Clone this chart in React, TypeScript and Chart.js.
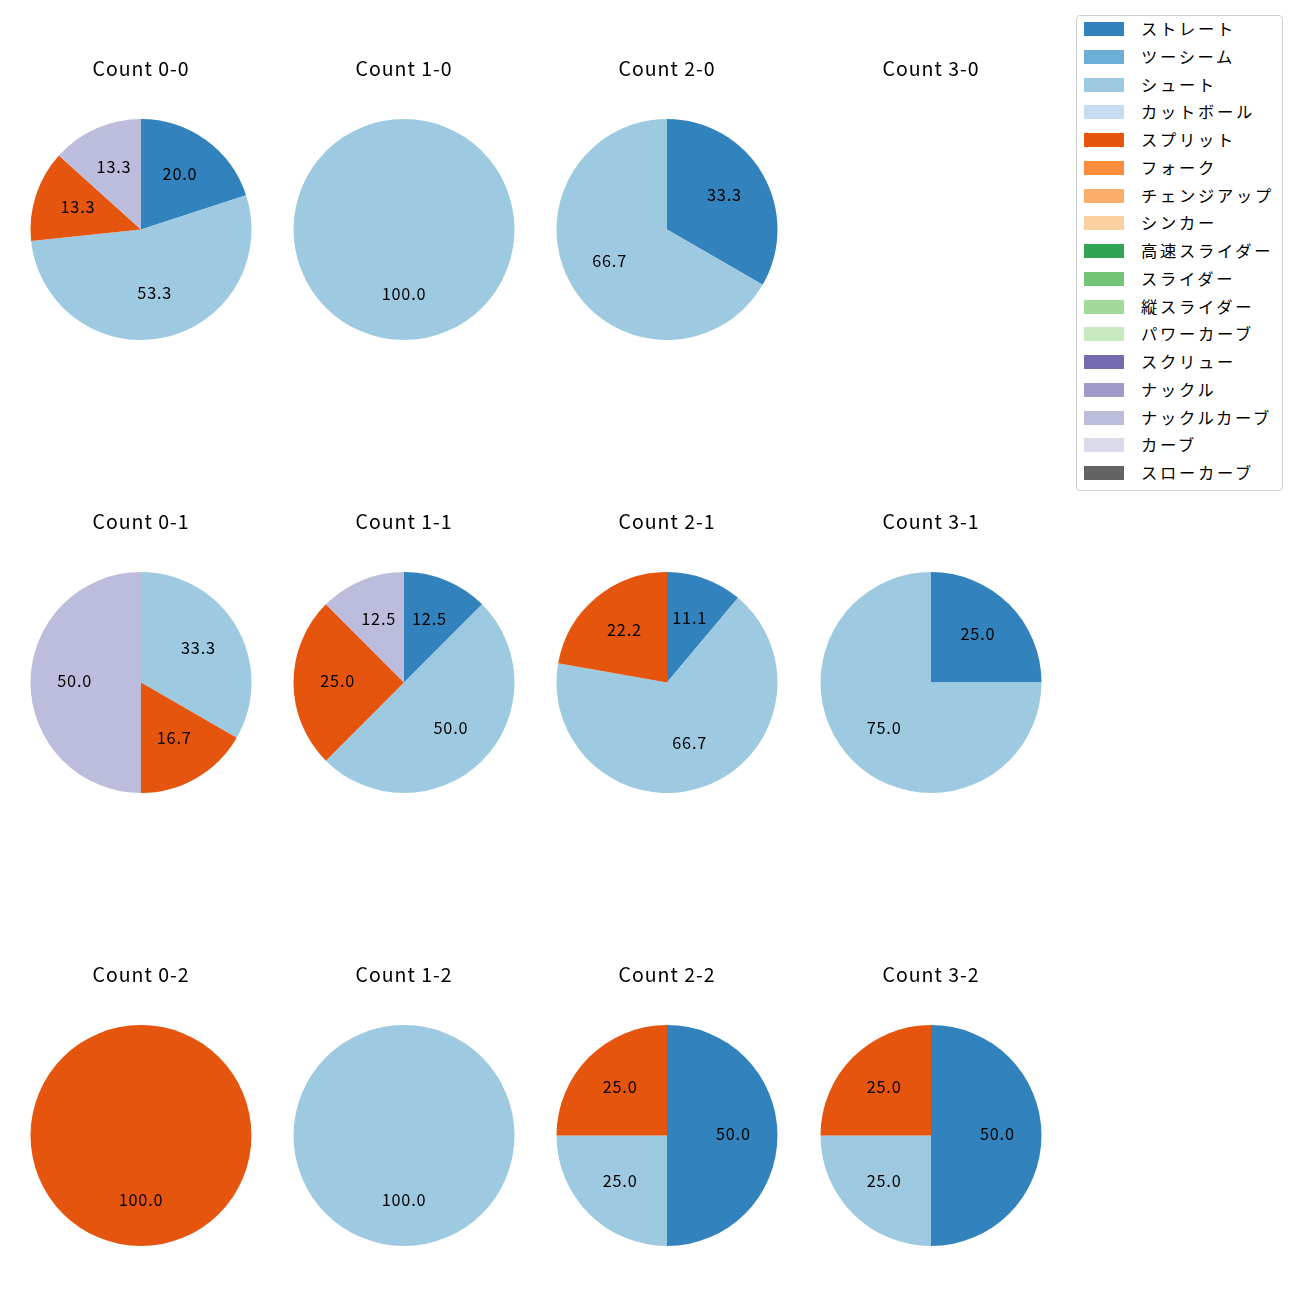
import React, { useEffect, useRef } from "react";
import { Chart, registerables } from "chart.js";

Chart.register(...registerables);

const pitchTypes = [
  "ストレート", "ツーシーム", "シュート", "カットボール", "スプリット", "フォーク",
  "チェンジアップ", "シンカー", "高速スライダー", "スライダー", "縦スライダー",
  "パワーカーブ", "スクリュー", "ナックル", "ナックルカーブ", "カーブ", "スローカーブ",
];
const pitchColors = [
  "#3182bd", "#6baed6", "#9ecae1", "#c6dbef", "#e6550d", "#fd8d3c",
  "#fdae6b", "#fdd0a2", "#31a354", "#74c476", "#a1d99b",
  "#c7e9c0", "#756bb1", "#9e9ac8", "#bcbddc", "#dadaeb", "#636363",
];

//                 St Tw Sh Ct Sp Fk Ch Sk HS Sl VS PC Sc Kn KC Cv SC
const count00 = [3, 0, 8, 0, 2, 0, 0, 0, 0, 0, 0, 0, 0, 0, 2, 0, 0];
const count10 = [0, 0, 1, 0, 0, 0, 0, 0, 0, 0, 0, 0, 0, 0, 0, 0, 0];
const count20 = [1, 0, 2, 0, 0, 0, 0, 0, 0, 0, 0, 0, 0, 0, 0, 0, 0];
const count30: number[] = [];
const count01 = [0, 0, 2, 0, 1, 0, 0, 0, 0, 0, 0, 0, 0, 0, 3, 0, 0];
const count11 = [1, 0, 4, 0, 2, 0, 0, 0, 0, 0, 0, 0, 0, 0, 1, 0, 0];
const count21 = [1, 0, 6, 0, 2, 0, 0, 0, 0, 0, 0, 0, 0, 0, 0, 0, 0];
const count31 = [1, 0, 3, 0, 0, 0, 0, 0, 0, 0, 0, 0, 0, 0, 0, 0, 0];
const count02 = [0, 0, 0, 0, 1, 0, 0, 0, 0, 0, 0, 0, 0, 0, 0, 0, 0];
const count12 = [0, 0, 1, 0, 0, 0, 0, 0, 0, 0, 0, 0, 0, 0, 0, 0, 0];
const count22 = [2, 0, 1, 0, 1, 0, 0, 0, 0, 0, 0, 0, 0, 0, 0, 0, 0];
const count32 = [2, 0, 1, 0, 1, 0, 0, 0, 0, 0, 0, 0, 0, 0, 0, 0, 0];

const panelTitles = [
  "Count 0-0", "Count 1-0", "Count 2-0", "Count 3-0",
  "Count 0-1", "Count 1-1", "Count 2-1", "Count 3-1",
  "Count 0-2", "Count 1-2", "Count 2-2", "Count 3-2",
];
const panelData = [
  count00, count10, count20, count30,
  count01, count11, count21, count31,
  count02, count12, count22, count32,
];

const FONT = "'Noto Sans CJK JP', 'Noto Sans', sans-serif";
const colCenters = [141, 404, 667, 930.5];
const rowCenters = [229, 682, 1135];
const CW = 260;
const CH = 281;
const TITLE_H = 20;
const TITLE_PAD = 40;
const TITLE_SIZE = 19.5;
const LABEL_SIZE = 16.3;

const spacingPlugin = {
  id: "letterSpacing",
  beforeDraw(chart: any) {
    chart.ctx.letterSpacing = "1px";
  },
  afterDraw(chart: any) {
    chart.ctx.letterSpacing = "0px";
  },
};

const pctLabelPlugin = {
  id: "pctLabels",
  afterDatasetsDraw(chart: any) {
    const ctx = chart.ctx;
    const ds = chart.data.datasets[0];
    if (!ds) return;
    const vals: number[] = ds.data as number[];
    const total = vals.reduce((a, b) => a + b, 0);
    if (!total) return;
    const meta = chart.getDatasetMeta(0);
    ctx.save();
    ctx.font = `${LABEL_SIZE}px ${FONT}`;
    ctx.letterSpacing = "0.8px";
    ctx.fillStyle = "#000";
    ctx.textAlign = "center";
    ctx.textBaseline = "middle";
    meta.data.forEach((arc: any, i: number) => {
      const v = vals[i];
      if (!v) return;
      const p = arc.getProps(["x", "y", "startAngle", "endAngle", "outerRadius"], true);
      const mid = (p.startAngle + p.endAngle) / 2;
      const r = p.outerRadius * 0.6;
      const x = p.x + Math.cos(mid) * r;
      const y = p.y + Math.sin(mid) * r - 2;
      ctx.fillText(((v / total) * 100).toFixed(1), x, y);
    });
    ctx.restore();
  },
};

function PiePanel({ title, values, cx, cy }: { title: string; values: number[]; cx: number; cy: number }) {
  const ref = useRef<HTMLCanvasElement | null>(null);
  useEffect(() => {
    if (!ref.current) return;
    const chart = new Chart(ref.current, {
      type: "pie",
      data: {
        labels: values.length ? pitchTypes : [],
        datasets: [
          {
            data: values,
            backgroundColor: pitchColors,
            borderWidth: 0,
          },
        ],
      },
      options: {
        responsive: false,
        animation: false,
        devicePixelRatio: 1,
        layout: { padding: 0 },
        plugins: {
          legend: { display: false },
          tooltip: { enabled: false },
          title: {
            display: true,
            text: title,
            color: "#000",
            font: { family: FONT, size: TITLE_SIZE, weight: "normal", lineHeight: TITLE_H / TITLE_SIZE },
            padding: { top: 0, bottom: TITLE_PAD },
          },
        },
      },
      plugins: [spacingPlugin, pctLabelPlugin],
    });
    return () => chart.destroy();
  }, [title, values]);
  const pieAreaH = CH - TITLE_H - TITLE_PAD;
  const left = cx - CW / 2;
  const top = cy - pieAreaH / 2 - TITLE_H - TITLE_PAD;
  return (
    <canvas
      ref={ref}
      width={CW}
      height={CH}
      style={{ position: "absolute", left, top, width: CW, height: CH }}
    />
  );
}

function Legend() {
  return (
    <div
      style={{
        position: "absolute",
        left: 1076,
        top: 15,
        width: 205,
        height: 474,
        border: "1px solid #d0d0d0",
        borderRadius: 4,
        background: "#fff",
        fontFamily: FONT,
        fontSize: 16.3,
        letterSpacing: "2.7px",
        color: "#000",
      }}
    >
      {pitchTypes.map((name, i) => (
        <div
          key={name}
          style={{
            position: "absolute",
            left: 0,
            top: i * 27.75 - 1,
            height: 28,
            display: "flex",
            alignItems: "center",
            whiteSpace: "nowrap",
          }}
        >
          <div style={{ marginLeft: 7, width: 40, height: 14, background: pitchColors[i] }} />
          <span style={{ marginLeft: 17, lineHeight: "28px", position: "relative", top: -1 }}>{name}</span>
        </div>
      ))}
    </div>
  );
}

export default function App() {
  useEffect(() => {
    document.body.style.margin = "0";
  }, []);
  return (
    <div style={{ position: "relative", width: 1300, height: 1300, background: "#fff" }}>
      {panelTitles.map((t, i) => (
        <PiePanel
          key={t}
          title={t}
          values={panelData[i]}
          cx={colCenters[i % 4]}
          cy={rowCenters[Math.floor(i / 4)]}
        />
      ))}
      <Legend />
    </div>
  );
}
